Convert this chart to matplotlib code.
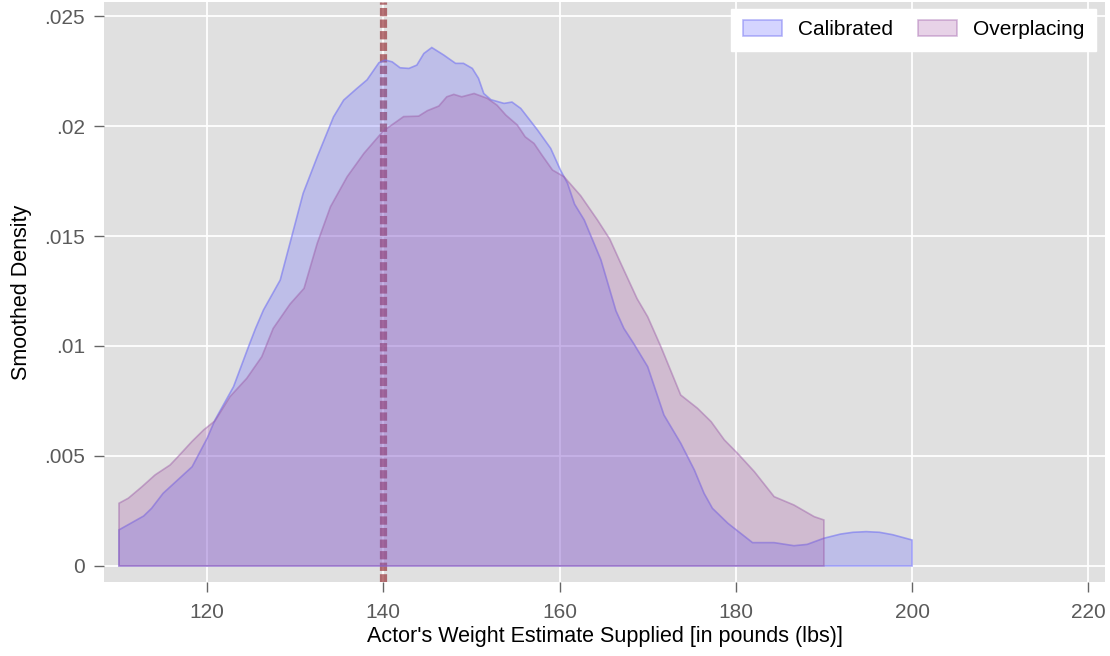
import matplotlib
matplotlib.use("Agg")
import matplotlib.pyplot as plt
from matplotlib.patches import Patch

plt.rcParams['font.family'] = ['Liberation Sans', 'DejaVu Sans']

# ---- data ----
calib_x = [110, 112.8, 113.7, 115.0, 118.3, 120.0, 120.9, 123.0, 124.7, 125.5, 126.4, 128.3,
           129.6, 130.9, 132.5, 134.35, 135.5, 137.0, 138.15, 139.5, 140.2, 141.0, 141.9,
           142.9, 143.8, 144.6, 145.5, 146.85, 148.2, 149.1, 150.1, 150.8, 151.4, 152.2,
           153.7, 154.6, 155.6, 157.5, 159.0, 160.1, 160.9, 161.7, 162.8, 164.7, 166.4,
           167.3, 168.4, 170.0, 171.85, 173.75, 175.3, 176.4, 177.35, 179.1, 181.9, 184.35,
           186.6, 188.1, 190.0, 191.9, 193.3, 194.8, 196.3, 197.8, 200]
calib_y = [.00164, .00227, .00262, .0033, .00451, .0058, .00664, .00815, .00997, .0108, .01164,
           .0130, .01497, .01694, .0186, .02042, .02118, .02171, .0221, .02288, .0230, .02292,
           .02265, .02262, .02277, .0233, .02357, .02323, .02285, .02285, .02262, .02217,
           .02148, .0212, .02103, .02109, .0208, .01982, .01898, .018, .0174, .01645, .01573,
           .01391, .0116, .0108, .01012, .00906, .00686, .00558, .00436, .0033, .00262, .00194,
           .00106, .00106, .00092, .00098, .00126, .00145, .00153, .00156, .00153, .00142, .00118]

over_x = [110, 111.06, 112.6, 114.1, 115.8, 116.7, 118.26, 119.6, 120.9, 122.6, 124.5, 126.2,
          127.5, 129.4, 131.0, 132.5, 134.0, 135.9, 137.8, 140.0, 142.3, 144.0, 145.0, 146.3,
          147.2, 148.0, 148.9, 150.3, 151.8, 152.9, 153.9, 155.2, 156.1, 157.1, 158.0, 159.2,
          160.5, 162.4, 164.3, 165.7, 166.9, 168.8, 170.0, 171.5, 173.75, 175.65, 177.2,
          178.7, 180.2, 182.1, 184.35, 186.6, 188.9, 190.0]
over_y = [.00285, .00308, .0036, .00414, .00459, .00497, .00565, .00618, .0066, .0077, .00853,
          .00951, .0108, .0119, .01262, .01467, .01633, .0177, .01876, .01978, .02043, .02045,
          .0207, .02091, .02133, .02144, .02133, .02148, .02126, .02095, .0205, .02005, .01951,
          .01921, .01868, .018, .0177, .01683, .01573, .01486, .0138, .01215, .01133, .00997,
          .00777, .00717, .00656, .00573, .00512, .00429, .00315, .00277, .00224, .00209]

series_names = ["Calibrated", "Overplacing"]
ref_value = 140

x_ticks = [120, 140, 160, 180, 200, 220]
y_ticks = [0, 0.005, 0.01, 0.015, 0.02, 0.025]
y_tick_labels = ["0", ".005", ".01", ".015", ".02", ".025"]

# ---- styling ----
blue_face = (0.39, 0.39, 1.0, 0.27)
blue_edge = (0.45, 0.45, 0.95, 0.6)
purple_face = (0.63, 0.31, 0.63, 0.25)
purple_edge = (0.6, 0.35, 0.65, 0.45)

fig = plt.figure(figsize=(11.10, 6.56), dpi=100)
ax = fig.add_axes([104/1110, 1 - 582/656, (1105-104)/1110, (582-2)/656])
ax.set_facecolor('#E0E0E0')
for s in ax.spines.values():
    s.set_visible(False)
ax.grid(True, color='white', linewidth=1.3, zorder=0.5)
ax.set_axisbelow(True)

def poly(xs, ys):
    px = [xs[0]] + list(xs) + [xs[-1], xs[0]]
    py = [0] + list(ys) + [0, 0]
    return px, py

# reference line drawn beneath the translucent densities
ax.axvline(ref_value, color=(0.56, 0.13, 0.15), alpha=0.62, linewidth=5.2,
           linestyle=(0, (1.15, 0.45)), dash_capstyle='butt', zorder=1.5)

cx, cy = poly(calib_x, calib_y)
ax.fill(cx, cy, facecolor=blue_face, edgecolor=blue_edge, linewidth=1.2, zorder=2)
ox, oy = poly(over_x, over_y)
ax.fill(ox, oy, facecolor=purple_face, edgecolor=purple_edge, linewidth=1.2, zorder=3)

ax.set_xlim(108.3, 221.9)
ax.set_ylim(-0.00073, 0.02564)
ax.set_xticks(x_ticks)
ax.set_xticklabels([str(v) for v in x_ticks])
ax.set_yticks(y_ticks)
ax.set_yticklabels(y_tick_labels)
ax.tick_params(axis='both', direction='out', length=7.2, width=1, color='#666666',
               labelcolor='#5a5a5a', labelsize=15)
ax.tick_params(axis='x', pad=8)
ax.tick_params(axis='y', pad=6.5)

ax.set_xlabel("Actor's Weight Estimate Supplied [in pounds (lbs)]", fontsize=15.5,
              color='black', labelpad=2.5)
ax.set_ylabel("Smoothed Density", fontsize=15.5, color='black', labelpad=8.5)

handles = [Patch(facecolor=(0.39, 0.39, 1.0, 0.27), edgecolor=(0.45, 0.45, 0.95, 0.5), linewidth=1.2),
           Patch(facecolor=(0.63, 0.31, 0.63, 0.25), edgecolor=(0.6, 0.35, 0.65, 0.4), linewidth=1.2)]
leg = ax.legend(handles, series_names, loc='upper right', ncol=2, frameon=True, fontsize=15,
                handlelength=1.875, handleheight=0.77, columnspacing=1.2, handletextpad=0.77,
                borderpad=0.55, borderaxespad=0, bbox_to_anchor=(0.991, 0.988), fancybox=False)
leg.get_frame().set_facecolor('white')
leg.get_frame().set_edgecolor('white')
leg.get_frame().set_alpha(1.0)

fig.savefig("out.png", dpi=100)
